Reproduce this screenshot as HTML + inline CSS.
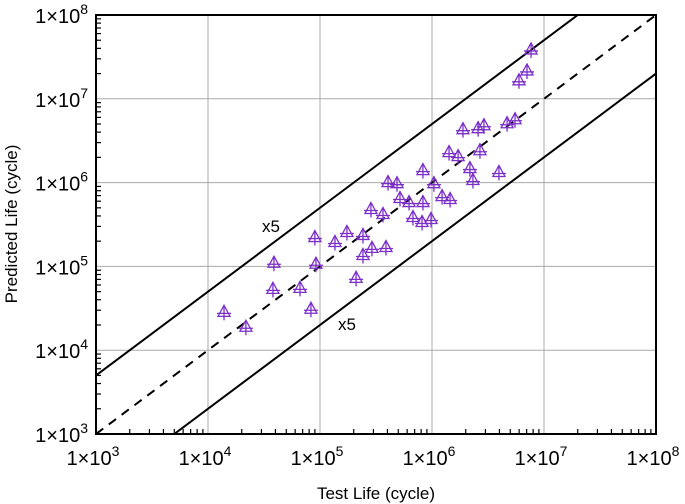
<!DOCTYPE html>
<html><head><meta charset="utf-8"><style>
body{margin:0;background:#fff}
svg{display:block;font-family:"Liberation Sans",Arial,sans-serif}
</style></head><body>
<svg id="chart" width="685" height="504" viewBox="0 0 685 504">
<g id="grid"></g>
<g id="lines"></g>
<g id="pts"></g>
<g id="axes"></g>
<text x="262" y="232" font-size="17">x5</text>
<text x="338" y="330" font-size="17">x5</text>
<text x="376" y="499" font-size="17" text-anchor="middle">Test Life (cycle)</text>
<text transform="translate(17,224) rotate(-90)" font-size="17" text-anchor="middle">Predicted Life (cycle)</text>
</svg>
<script>
const testLife=[1.39e4,2.18e4,3.88e4,3.80e4,6.63e4,8.3e4,9.2e4,9.0e4,1.36e5,1.74e5,2.1e5,2.42e5,2.42e5,2.91e5,3.88e5,2.85e5,3.65e5,4.05e5,4.87e5,5.18e5,6.24e5,6.76e5,8.15e5,9.8e5,8.3e5,8.3e5,1.04e6,1.23e6,1.45e6,1.42e6,1.71e6,2.68e6,2.18e6,2.32e6,3.96e6,1.89e6,2.58e6,2.91e6,4.68e6,5.51e6,7.66e6,7.05e6,5.98e6];
const predLife=[2.83e4,1.88e4,1.09e5,5.32e4,5.47e4,3.08e4,1.06e5,2.21e5,1.93e5,2.54e5,7.2e4,2.34e5,1.35e5,1.64e5,1.68e5,4.78e5,4.16e5,1.0e6,9.7e5,6.46e5,5.78e5,3.83e5,3.34e5,3.63e5,5.78e5,1.39e6,9.7e5,6.8e5,6.28e5,2.28e6,2.04e6,2.4e6,1.47e6,1.06e6,1.32e6,4.28e6,4.4e6,4.77e6,5.04e6,5.62e6,3.83e7,2.15e7,1.64e7];
const decades=[3,4,5,6,7,8];
const bandFactors=[1,5,0.2];
const L=96,R=656,T=15,B=434,NS="http://www.w3.org/2000/svg";
const X=v=>L+(Math.log10(v)-3)/5*(R-L);
const Y=v=>B-(Math.log10(v)-3)/5*(B-T);
function mk(tag,attrs,parent){const e=document.createElementNS(NS,tag);for(const k in attrs)e.setAttribute(k,attrs[k]);parent.appendChild(e);return e;}
const grid=document.getElementById('grid'),axes=document.getElementById('axes'),lines=document.getElementById('lines'),pts=document.getElementById('pts');
decades.forEach(d=>{
  const v=Math.pow(10,d);
  if(d>3&&d<8){
    const g1=mk('line',{x1:X(v),x2:X(v),y1:T,y2:B,stroke:'#aaa','stroke-width':1},grid);
    
    
    const g2=mk('line',{x1:L,x2:R,y1:Y(v),y2:Y(v),stroke:'#aaa','stroke-width':1},grid);
    
    
  }
  const tx=mk('text',{x:X(v)-3,y:B+31,'font-size':20,'text-anchor':'middle'},axes);
  tx.innerHTML='1×10<tspan dy="-9" font-size="14">'+d+'</tspan>';
  
  
  const ty=mk('text',{x:L-8,y:Y(v)+8,'font-size':20,'text-anchor':'end'},axes);
  ty.innerHTML='1×10<tspan dy="-9" font-size="14">'+d+'</tspan>';
  
  
  if(d<8){for(let m=2;m<=9;m++){
    const mv=v*m;
    const a=mk('line',{x1:X(mv),x2:X(mv),y1:B,y2:B-5,stroke:'#000','stroke-width':1.2},axes);
    
    
    const b=mk('line',{x1:L,x2:L+5,y1:Y(mv),y2:Y(mv),stroke:'#000','stroke-width':1.2},axes);
    
    
  }}
});
const frame=mk('rect',{x:L,y:T,width:R-L,height:B-T,fill:'none',stroke:'#000','stroke-width':2},axes);


const cp=mk('clipPath',{id:'cp'},document.getElementById('chart'));
mk('rect',{x:L,y:T,width:R-L,height:B-T},cp);
lines.setAttribute('clip-path','url(#cp)');
bandFactors.forEach(f=>{
  const l=mk('line',{x1:X(1e3),y1:Y(1e3*f),x2:X(1e8),y2:Y(1e8*f),stroke:'#000','stroke-width':2},lines);
  if(f===1)l.setAttribute('stroke-dasharray','9,7');
  
  
});
testLife.forEach((t,i)=>{
  const cx=X(t),cy=Y(predLife[i]);
  const g=mk('g',{stroke:'#7b2fc9','stroke-width':1.3,fill:'none'},pts);
  
  
  mk('path',{d:`M${cx} ${cy-7}L${cx-6} ${cy+4}L${cx+6} ${cy+4}Z`},g);
  mk('path',{d:`M${cx} ${cy-7}V${cy+8}M${cx-7} ${cy+1}H${cx+7}`},g);
});
</script>
</body></html>
